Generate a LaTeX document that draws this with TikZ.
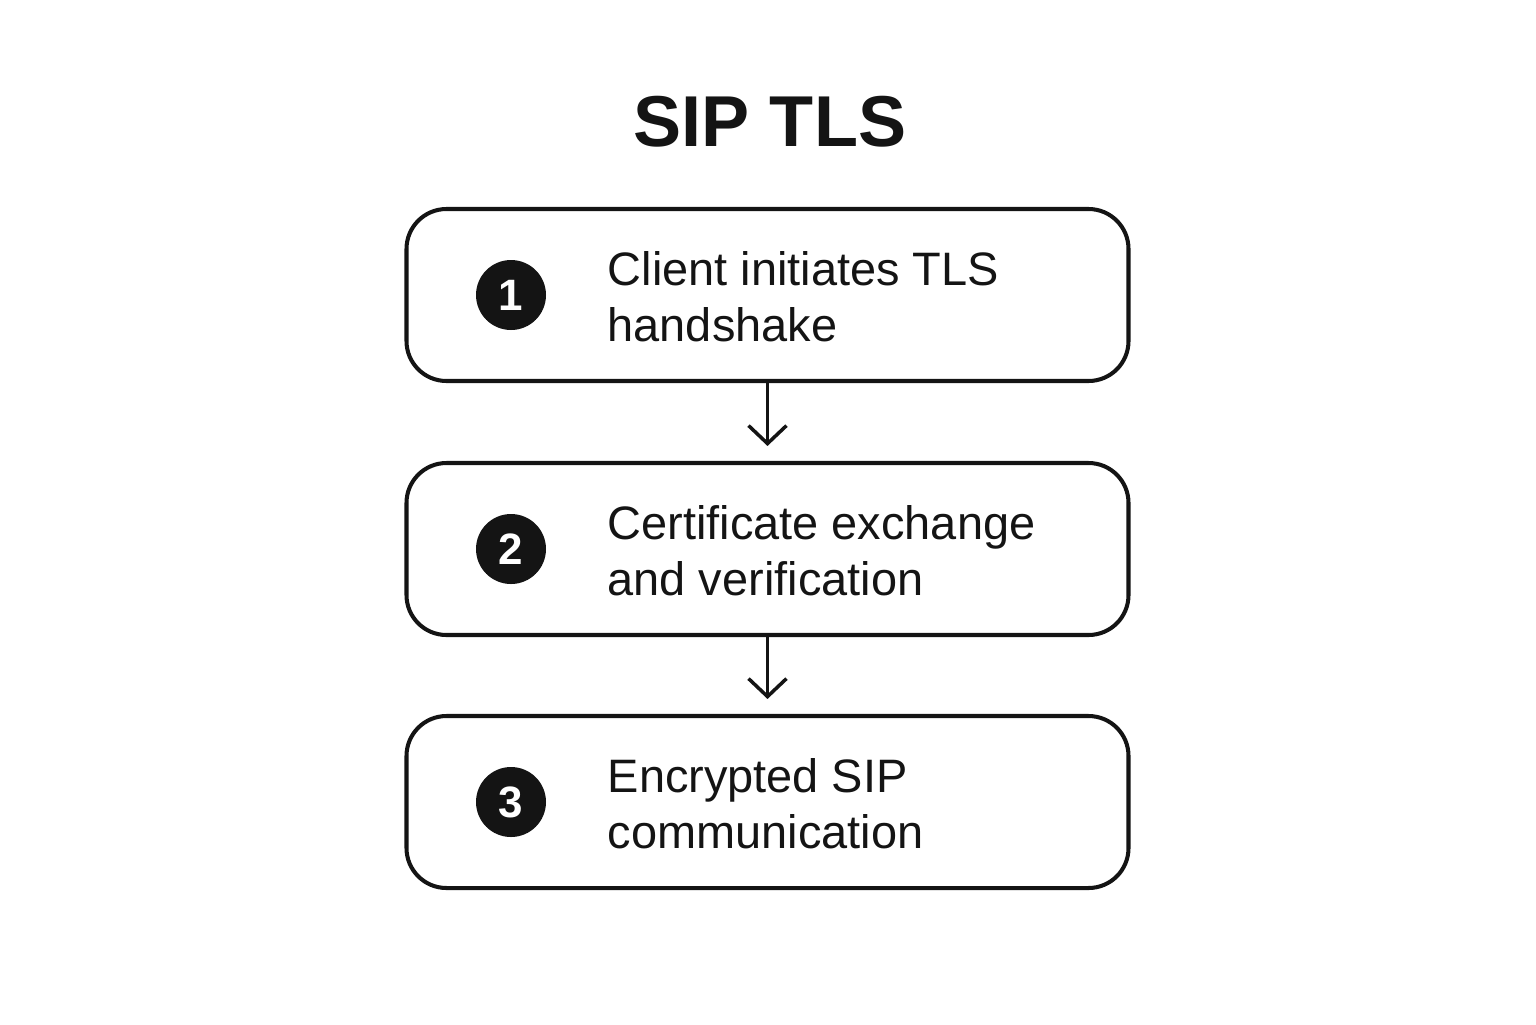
\documentclass[tikz,border=0pt]{standalone}
\usepackage{fontspec}
\setmainfont{Liberation Sans}
\usetikzlibrary{arrows.meta, positioning}

\begin{document}
\begin{tikzpicture}[
  stepbox/.style = {draw = black!92, line width = 1.15pt, rounded corners = 0.4cm, minimum width = 7.22cm, minimum height = 1.72cm},
  badge/.style = {circle, fill = black!92, text = white, minimum size = 0.7cm, inner sep = 0pt, font = \fontsize{12.5pt}{12.5pt}\selectfont\bfseries},
  steptext/.style = {anchor = west, align = left, inner sep = 0pt, text = black!92, font = \fontsize{13.35pt}{15.9pt}\selectfont},
  flow/.style = {-{Straight Barb[length = 0.18cm, width = 0.38cm]}, line width = 1pt, draw = black!92, shorten > = 0.15cm}
]
\useasboundingbox (0, 0) rectangle (15.36, -10.24);

\node (title) at (7.7, -1.22) [text = black!92, font = \fontsize{20.5pt}{24pt}\selectfont\bfseries] {SIP TLS};

\node (box1) at (7.675, -2.95) [stepbox] {};
\node (box2) at (7.675, -5.49) [stepbox] {};
\node (box3) at (7.675, -8.02) [stepbox] {};

\node (num1) at (5.11, -2.95) [badge] {1};
\node (num2) at (5.11, -5.49) [badge] {2};
\node (num3) at (5.11, -8.02) [badge] {3};

\node (label1) at (6.07, -2.97) [steptext] {Client initiates TLS\\handshake};
\node (label2) at (6.07, -5.51) [steptext] {Certificate exchange\\and verification};
\node (label3) at (6.07, -8.04) [steptext] {Encrypted SIP\\communication};

\draw[flow] (box1.south) -- (box2.north);
\draw[flow] (box2.south) -- (box3.north);

\end{tikzpicture}
\end{document}
